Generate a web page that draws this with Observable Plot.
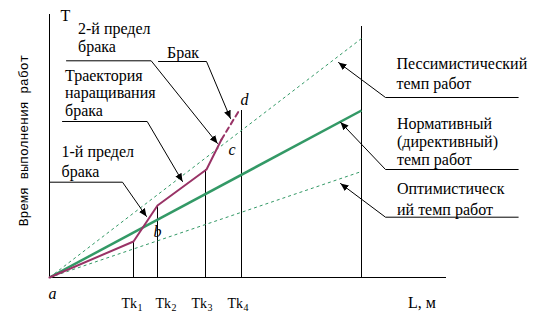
<!DOCTYPE html>
<html><head><meta charset="utf-8">
<script src="https://cdn.jsdelivr.net/npm/d3@7"></script>
<script src="https://cdn.jsdelivr.net/npm/@observablehq/plot@0.6"></script>
<style>
body{margin:0;background:#fff}
#chart svg, #chart svg text{font-family:"Liberation Serif","Times New Roman",serif !important}
#chart svg text.ytitle{font-family:"Liberation Mono","Courier New",monospace !important}
</style>
</head><body><div id="chart"></div>
<script>
// ---- data (L along x, T along y) ----
const axisXEnd = 397;
const axisYTop = 263;
const lEnd = 312;
const lTop = 251;

const tkSub = ["1", "2", "3", "4"];
const tkL = [84, 108, 156, 192];
const tkTop = [36, 72, 108, 167];
const tkLabelL = [72, 106, 142, 178];
const tkLabelT = -30;

const paceNames = ["Пессимистический", "Нормативный", "Оптимистический"];
const paceEndT = [239, 167, 106];

const trajL = [0, 84, 108, 157, 172];
const trajT = [0, 36, 72, 108, 138];
const brakL = [172, 189];
const brakT = [138, 166];

const pointNames = ["a", "b", "c", "d"];
const pointL = [-1, 104, 179, 191];
const pointT = [-21, 41, 123, 173];

const labelText = ["T", "2-й предел", "брака", "Брак", "Траектория", "наращивания", "брака",
  "1-й предел", "брака", "Пессимистический", "темп работ", "Нормативный", "(директивный)",
  "темп работ", "Оптимистическ", "ий темп работ", "L, м"];
const labelL = [11, 28.5, 28.5, 117.5, 15.5, 15.5, 15.5, 12, 12, 347, 347, 347.5, 347.5, 347.5, 347.5, 347.5, 358.5];
const labelT = [257, 244, 225.5, 219.5, 197, 179.5, 162, 121, 100.5, 208.5, 188.5, 148.5, 131, 113, 83.5, 63, -30];

const yTitle = "Время выполнения работ";

const leaderId = ["p2","p2","p2","br","br","br","tr","tr","tr","p1","p1","p1","pe","pe","pe","no","no","no","op","op","op"];
const leaderL = [17, 101.7, 168, 109, 157, 181, 13, 97.7, 133, 0, 73, 97, 468.7, 336, 289, 468.7, 336, 291, 468.7, 336, 291];
const leaderT = [216.7, 216.7, 134, 216, 216, 159, 156, 156, 96, 95.3, 95.3, 61, 180, 180, 215, 108, 108, 155.3, 60.3, 60.3, 94];

// ---- tables ----
const tks = tkL.map((L, i) => ({L, top: tkTop[i], labelL: tkLabelL[i], sub: tkSub[i]}));
const paces = paceNames.map((name, i) => ({name, T: paceEndT[i]}));
const traj = trajL.map((L, i) => ({L, T: trajT[i]}));
const brak = brakL.map((L, i) => ({L, T: brakT[i]}));
const points = pointNames.map((name, i) => ({name, L: pointL[i], T: pointT[i]}));
const labels = labelText.map((text, i) => ({text, L: labelL[i], T: labelT[i]}));
const leaders = leaderId.map((id, i) => ({id, L: leaderL[i], T: leaderT[i]}));

const green = "#339966", purple = "#993366";

const plot = Plot.plot({
  width: 537, height: 326,
  margin: 0,
  x: {domain: [-49, 488], range: [0, 537], axis: null},
  y: {domain: [-49, 277], range: [326, 0], axis: null},
  style: {background: "#fff"},
  marks: [
    Plot.ruleX([0], {y1: 0, y2: axisYTop, stroke: "black"}),
    Plot.ruleY([0], {x1: 0, x2: axisXEnd, stroke: "black"}),
    Plot.ruleX([lEnd], {y1: 0, y2: lTop, stroke: "black"}),
    Plot.ruleX(tks, {x: "L", y1: 0, y2: "top", stroke: "black"}),
    Plot.link(paces.filter(d => d.name !== "Нормативный"), {x1: 0, y1: 0, x2: lEnd, y2: "T", stroke: green, strokeWidth: 1, strokeDasharray: "3,3"}),
    Plot.link(paces.filter(d => d.name === "Нормативный"), {x1: 0, y1: 0, x2: lEnd, y2: "T", stroke: green, strokeWidth: 2.5}),
    Plot.line(traj, {x: "L", y: "T", stroke: purple, strokeWidth: 2, curve: "linear"}),
    Plot.line(brak, {x: "L", y: "T", stroke: purple, strokeWidth: 2, strokeDasharray: "5,4"}),
    Plot.line(leaders, {x: "L", y: "T", z: "id", stroke: "black", strokeWidth: 1, markerEnd: "arrow"}),
    Plot.text(labels, {x: "L", y: "T", text: "text", textAnchor: "start", lineAnchor: "bottom", fontSize: 16, fill: "black"}),
    Plot.text(points, {x: "L", y: "T", text: "name", textAnchor: "start", lineAnchor: "bottom", fontSize: 16, fontStyle: "italic", fill: "black"}),
    Plot.text(tks, {x: "labelL", y: tkLabelT, text: () => "Tk", textAnchor: "start", lineAnchor: "bottom", fontSize: 14, fill: "black"}),
    Plot.text(tks, {x: "labelL", y: tkLabelT, text: "sub", textAnchor: "start", lineAnchor: "bottom", fontSize: 10, dx: 16, dy: 3, fill: "black"}),
    Plot.text([yTitle], {x: -22, y: 137, text: d => d, rotate: -90, textAnchor: "middle", lineAnchor: "bottom", fontSize: 13, fill: "black"})
  ]
});

// filled arrowheads for the leader lines
plot.querySelectorAll("marker").forEach(m => {
  m.setAttribute("viewBox", "-8 -4 8 8");
  m.setAttribute("markerWidth", "8");
  m.setAttribute("markerHeight", "8");
  m.setAttribute("markerUnits", "userSpaceOnUse");
  m.setAttribute("fill", "black");
  m.setAttribute("stroke", "none");
  const p = m.querySelector("path");
  if (p) p.setAttribute("d", "M-8,-3.5L0,0L-8,3.5Z");
});
// monospace font for the vertical axis title
plot.querySelectorAll("text").forEach(t => {
  if (t.textContent === yTitle) t.classList.add("ytitle");
});

document.getElementById("chart").append(plot);
</script>
</body></html>
